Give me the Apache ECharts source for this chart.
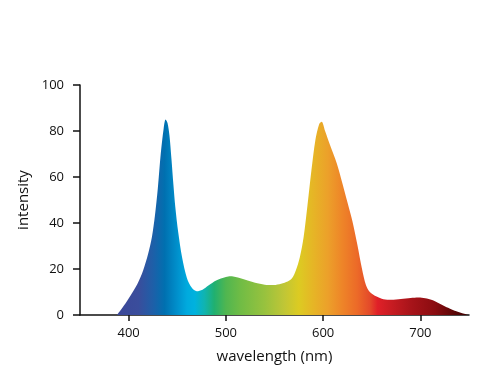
<!DOCTYPE html>
<html>
<head>
<meta charset="utf-8">
<script src="https://cdn.jsdelivr.net/npm/echarts@6/dist/echarts.min.js"></script>
<style>html,body{margin:0;padding:0;background:#fff}#c{width:500px;height:375px}</style>
</head>
<body>
<div id="c"></div>
<script>
const wavelengths = [388,395,402,409,415,420,424,427,430,433,436,438,440,442,444,446,448,451,455,460,465,470,476,482,490,500,505,510,520,530,540,547,555,562,568,572,576,580,584,588,592,596,598.5,602,607,614,620,625,630,635,640,644,648,655,662,670,680,690,698,705,712,718,724,730,737,743,750];
const intensity  = [0,4,8.5,13.5,19.5,26.5,34,43,55,70,81,85,83.5,78,68,57,47,36,25,16,11.8,10.3,11,12.8,15,16.5,16.8,16.5,15.3,14,13.2,13,13.4,14.3,16,19.5,25,34,48,63,76,83,84,80,74,66,57,49,41,31,20,13,10,8,6.8,6.6,7,7.4,7.6,7.3,6.5,5.3,4,2.8,1.6,0.8,0];
const xTicks = [400,500,600,700];
const spectrumStops = [
  [388,'#3b4898'],[410,'#3a4d9c'],[425,'#1e5fa8'],[437,'#0070b0'],[450,'#0090cc'],
  [460,'#00aade'],[468,'#00b2de'],[478,'#10b4b0'],[488,'#20b070'],[500,'#50b650'],
  [515,'#70bc45'],[540,'#98c23e'],[560,'#c0c636'],[575,'#dccb22'],[590,'#e6b526'],
  [605,'#eca02a'],[620,'#ee8428'],[635,'#ec6a28'],[648,'#e44a2a'],[656,'#e02028'],
  [670,'#c81c22'],[690,'#a8141a'],[715,'#8a0c10'],[735,'#5a0606'],[750,'#3a0000']
];
const lo = wavelengths[0], hi = wavelengths[wavelengths.length-1];
const stops = spectrumStops.map(s => ({offset: (s[0]-lo)/(hi-lo), color: s[1]}));
const data = wavelengths.map((w,i) => [w, intensity[i]]);
const font = '"Open Sans", sans-serif';
const chart = echarts.init(document.getElementById('c'), null, {renderer:'canvas'});
chart.setOption({
  animation: false,
  grid: {left: 80, right: 31, top: 85, bottom: 60},
  xAxis: {
    type: 'value', min: 350, max: 750,
    name: 'wavelength (nm)', nameLocation: 'middle', nameGap: 34,
    nameTextStyle: {fontFamily: font, fontSize: 15, color: '#111'},
    axisLine: {lineStyle: {color: '#111', width: 1.5}},
    axisTick: {show: true, length: 6, lineStyle: {color: '#111', width: 1.5}, customValues: xTicks},
    axisLabel: {fontFamily: font, fontSize: 13, color: '#111', margin: 12, customValues: xTicks},
    splitLine: {show: false}
  },
  yAxis: {
    type: 'value', min: 0, max: 100, interval: 20,
    name: 'intensity', nameLocation: 'middle', nameGap: 48,
    nameTextStyle: {fontFamily: font, fontSize: 15, color: '#111'},
    axisLine: {show: true, lineStyle: {color: '#111', width: 1.5}},
    axisTick: {show: true, length: 7, lineStyle: {color: '#111', width: 1.5}},
    axisLabel: {fontFamily: font, fontSize: 13, color: '#111', margin: 16},
    splitLine: {show: false}
  },
  series: [{
    type: 'line', data: data, smooth: 0.3, symbol: 'none',
    lineStyle: {width: 0},
    areaStyle: {opacity: 1, color: new echarts.graphic.LinearGradient(0,0,1,0, stops)}
  }]
});
</script>
</body>
</html>
